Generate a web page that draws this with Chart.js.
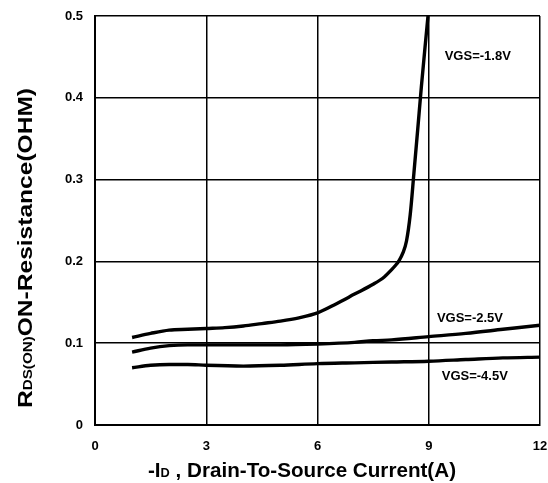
<!DOCTYPE html>
<html>
<head>
<meta charset="utf-8">
<script src="https://cdn.jsdelivr.net/npm/chart.js@4.4.1/dist/chart.umd.min.js"></script>
<style>
  html, body { margin: 0; padding: 0; background: #fff; }
  #wrap { width: 548px; height: 483px; }
</style>
</head>
<body>
<div id="wrap"><canvas id="c" width="548" height="483"></canvas></div>
<script>
// ---- data ----
const xTicks = [0, 3, 6, 9, 12];
const yTicks = [0, 0.1, 0.2, 0.3, 0.4, 0.5];

const id18  = [1, 1.5, 2, 2.5, 3, 3.5, 4, 4.5, 5, 5.5, 6, 6.5, 7, 7.5, 7.8, 8, 8.1, 8.2, 8.3, 8.4, 8.5, 8.6, 8.7, 8.8, 8.9, 8.98];
const r18   = [0.107, 0.112, 0.116, 0.117, 0.118, 0.119, 0.121, 0.124, 0.127, 0.131, 0.137, 0.148, 0.160, 0.172, 0.181, 0.190, 0.195, 0.201, 0.210, 0.225, 0.257, 0.308, 0.360, 0.413, 0.462, 0.500];

const id25  = [1, 1.5, 2, 2.5, 3, 4, 5, 6, 7, 7.5, 8, 9, 10, 11, 12];
const r25   = [0.089, 0.094, 0.097, 0.098, 0.098, 0.098, 0.098, 0.099, 0.101, 0.103, 0.104, 0.108, 0.112, 0.117, 0.122];

const id45  = [1, 1.5, 2, 2.5, 3, 4, 5, 6, 7, 8, 9, 10, 11, 12];
const r45   = [0.070, 0.073, 0.074, 0.074, 0.073, 0.072, 0.073, 0.075, 0.076, 0.077, 0.078, 0.080, 0.082, 0.083];

const seriesNames = ['VGS=-1.8V', 'VGS=-2.5V', 'VGS=-4.5V'];
const labelAnchors = [[9.43, 0.451], [9.22, 0.130], [9.35, 0.059]];

const FONT = '"Liberation Sans", Arial, sans-serif';

function pts(xs, ys) { return xs.map((x, i) => ({ x: x, y: ys[i] })); }

const lineStyle = {
  borderColor: '#000', borderWidth: 3.4, pointRadius: 0,
  cubicInterpolationMode: 'monotone', fill: false
};

const annot = {
  id: 'annot',
  afterDatasetsDraw(chart) {
    const ctx = chart.ctx, xs = chart.scales.x, ys = chart.scales.y;
    ctx.save();
    ctx.fillStyle = '#000';
    ctx.font = 'bold 13px ' + FONT;
    ctx.textBaseline = 'middle';
    ctx.textAlign = 'left';
    seriesNames.forEach((n, i) => {
      ctx.fillText(n, xs.getPixelForValue(labelAnchors[i][0]), ys.getPixelForValue(labelAnchors[i][1]));
    });
    ctx.restore();

    function drawFitted(segs, target) {
      let total = 0;
      segs.forEach(s => { ctx.font = 'bold ' + s.size + 'px ' + FONT; s.w = ctx.measureText(s.t).width; total += s.w; });
      const k = target / total;
      ctx.scale(k, 1);
      let p = 0;
      segs.forEach(s => { ctx.font = 'bold ' + s.size + 'px ' + FONT; ctx.fillText(s.t, p, 0); p += s.w; });
    }
    // x title
    ctx.save();
    ctx.fillStyle = '#000';
    ctx.textBaseline = 'alphabetic';
    ctx.textAlign = 'left';
    ctx.translate(148, 477);
    drawFitted([{ t: '-I', size: 21 }, { t: 'D', size: 13 }, { t: ' , Drain-To-Source Current(A)', size: 21 }], 308);
    ctx.restore();
    // y title
    ctx.save();
    ctx.fillStyle = '#000';
    ctx.textBaseline = 'alphabetic';
    ctx.textAlign = 'left';
    ctx.translate(32, 408);
    ctx.rotate(-Math.PI / 2);
    drawFitted([{ t: 'R', size: 21 }, { t: 'DS(ON)', size: 13 }, { t: 'ON-Resistance(OHM)', size: 21 }], 320);
    ctx.restore();
  }
};

new Chart(document.getElementById('c'), {
  type: 'line',
  data: {
    datasets: [
      Object.assign({ label: seriesNames[0], data: pts(id18, r18) }, lineStyle),
      Object.assign({ label: seriesNames[1], data: pts(id25, r25) }, lineStyle),
      Object.assign({ label: seriesNames[2], data: pts(id45, r45) }, lineStyle)
    ]
  },
  options: {
    responsive: false,
    animation: false,
    layout: { padding: { left: 0, right: 8, top: 16, bottom: 0 } },
    plugins: { legend: { display: false }, tooltip: { enabled: false } },
    scales: {
      x: {
        type: 'linear', min: 0, max: 12,
        afterFit(s) { s.height = 58; s.paddingLeft = 0; s.paddingRight = 0; },
        afterBuildTicks(s) { s.ticks = xTicks.map(v => ({ value: v })); },
        grid: { color: '#000', lineWidth: 1.5, drawTicks: false },
        border: { color: '#000', width: 2 },
        ticks: { color: '#000', padding: 14, maxRotation: 0, font: { family: FONT, size: 13, weight: 'bold' } }
      },
      y: {
        type: 'linear', min: 0, max: 0.5,
        afterFit(s) { s.width = 95; s.paddingTop = 0; s.paddingBottom = 0; },
        afterBuildTicks(s) { s.ticks = yTicks.map(v => ({ value: v })); },
        grid: { color: '#000', lineWidth: 1.5, drawTicks: false },
        border: { color: '#000', width: 2 },
        ticks: { color: '#000', padding: 12, font: { family: FONT, size: 13, weight: 'bold' },
                 callback: v => String(v) }
      }
    }
  },
  plugins: [annot]
});
</script>
</body>
</html>
